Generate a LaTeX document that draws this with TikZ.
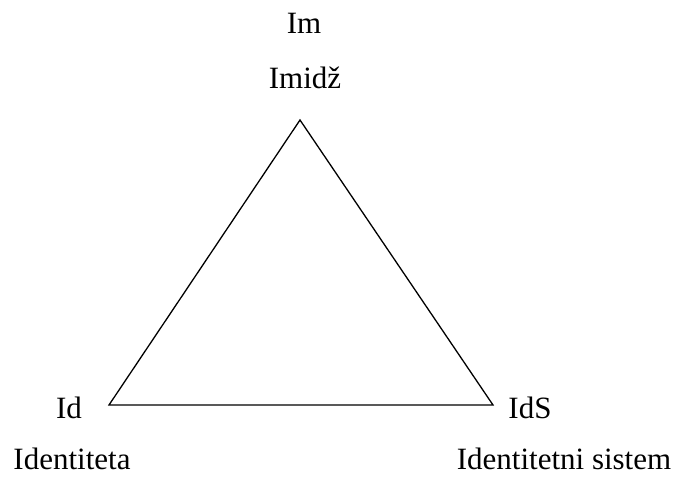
\documentclass[tikz,border=0pt]{standalone}
\usepackage{fontspec}
\setmainfont{Liberation Serif}
\begin{document}
\begin{tikzpicture}[x=1pt,y=-1pt,
  lbl/.style={anchor=base,inner sep=0pt,text depth=0pt,font=\fontsize{31}{36}\selectfont},
  edge/.style={line width=1.3pt,line join=miter}]
\useasboundingbox (0,0) rectangle (677,477);
\coordinate (top) at (300,120);
\coordinate (bl) at (109,405);
\coordinate (br) at (493,405);
\draw[edge] (top) -- (bl) -- (br) -- cycle;
\node[lbl] (im) at (304,33) {Im};
\node[lbl] (imidz) at (305,88) {Imidž};
\node[lbl] (id) at (69,418) {Id};
\node[lbl] (identiteta) at (72,469) {Identiteta};
\node[lbl] (ids) at (530,418) {IdS};
\node[lbl] (idsys) at (564,469) {Identitetni sistem};
\end{tikzpicture}
\end{document}
